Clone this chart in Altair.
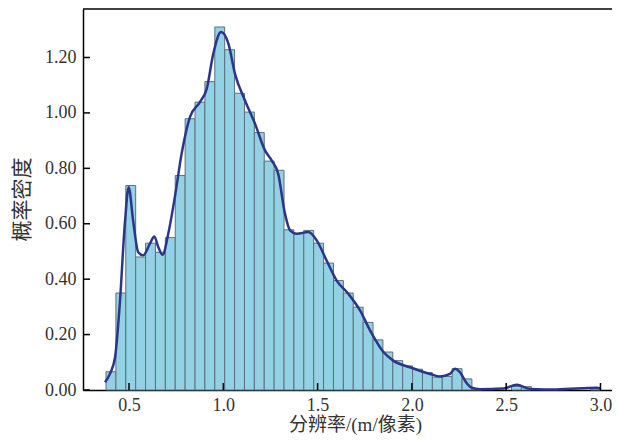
import altair as alt
import pandas as pd

# Histogram: 50 equal bins between data min and max
data_min = 0.378
data_max = 3.0
n_bins = 50
bin_heights = [0.066, 0.35, 0.738, 0.48, 0.53, 0.497, 0.55, 0.774, 0.979, 1.039,
               1.113, 1.31, 1.228, 1.071, 1.003, 0.929, 0.826, 0.793, 0.578, 0.564,
               0.576, 0.53, 0.458, 0.395, 0.35, 0.299, 0.244, 0.181, 0.137, 0.106,
               0.087, 0.075, 0.063, 0.046, 0.049, 0.077, 0.04, 0.004, 0.0, 0.0,
               0.0, 0.013, 0.012, 0.0, 0.0, 0.0, 0.0, 0.0, 0.0, 0.004]

# KDE curve
kde_x = [0.373, 0.40, 0.426, 0.45, 0.479, 0.498, 0.522, 0.549, 0.575, 0.611,
         0.634, 0.655, 0.678, 0.708, 0.743, 0.779, 0.823, 0.876, 0.912, 0.947,
         0.988, 1.027, 1.062, 1.115, 1.168, 1.221, 1.257, 1.291, 1.327, 1.354,
         1.389, 1.451, 1.495, 1.548, 1.601, 1.663, 1.725, 1.778, 1.849, 1.901,
         1.99, 2.096, 2.149, 2.202, 2.228, 2.255, 2.29, 2.317, 2.361, 2.485,
         2.556, 2.626, 2.768, 2.98, 3.0]
kde_y = [0.028, 0.06, 0.118, 0.30, 0.61, 0.732, 0.61, 0.497, 0.486, 0.528,
         0.554, 0.516, 0.488, 0.564, 0.696, 0.853, 0.985, 1.039, 1.087, 1.214,
         1.292, 1.25, 1.141, 1.045, 0.961, 0.865, 0.828, 0.78, 0.636, 0.576,
         0.564, 0.57, 0.54, 0.467, 0.395, 0.347, 0.287, 0.215, 0.137, 0.106,
         0.082, 0.058, 0.049, 0.058, 0.077, 0.064, 0.025, 0.008, 0.003, 0.005,
         0.019, 0.004, 0.002, 0.008, 0.006]

x_ticks = [0.5, 1.0, 1.5, 2.0, 2.5, 3.0]
y_ticks = [0.0, 0.2, 0.4, 0.6, 0.8, 1.0, 1.2]

x_title = "分辨率/(m/像素)"
y_title = "概率密度"

X_DOMAIN = [0.256, 3.061]
Y_DOMAIN = [0, 1.375]
W, H = 529, 381

bw = (data_max - data_min) / n_bins
bars = pd.DataFrame({
    "x0": [data_min + i * bw for i in range(n_bins)],
    "x1": [data_min + (i + 1) * bw for i in range(n_bins)],
    "h": bin_heights,
})
bars = bars[bars["h"] > 0]
kde = pd.DataFrame({"x": kde_x, "y": kde_y})
xt = pd.DataFrame({"v": x_ticks})
yt = pd.DataFrame({"v": y_ticks})

serif = "'Liberation Serif', 'Times New Roman', 'Noto Sans CJK SC', serif"
xscale = alt.Scale(domain=X_DOMAIN, nice=False, zero=False)
yscale = alt.Scale(domain=Y_DOMAIN, nice=False)

x_axis = alt.Axis(
    values=x_ticks, format=".1f", title=x_title, ticks=False, tickSize=0,
    grid=False, labelFont=serif, labelFontSize=18, labelColor="#333333",
    labelPadding=6, domainColor="#000000", domainWidth=1.5,
    titleFont=serif, titleFontSize=19, titleColor="#333333", titleFontWeight="normal",
    titleX=272, titleY=34, titleAlign="center", titleBaseline="middle")
y_axis = alt.Axis(
    values=y_ticks, format=".2f", title=y_title, ticks=False, tickSize=0,
    grid=False, labelFont=serif, labelFontSize=18, labelColor="#333333",
    labelPadding=7, domainColor="#000000", domainWidth=1.5,
    titleFont=serif, titleFontSize=21, titleColor="#333333", titleFontWeight="normal",
    titleX=-61, titleY=190, titleAngle=-90, titleAlign="center", titleBaseline="middle")

bar_layer = alt.Chart(bars).mark_rect(
    fill="#93d2e5", stroke="#5f7078", strokeWidth=1
).encode(
    x=alt.X("x0:Q", scale=xscale, axis=x_axis),
    x2="x1:Q",
    y=alt.Y("h:Q", scale=yscale, axis=y_axis),
    y2=alt.datum(0),
)

line_layer = alt.Chart(kde).mark_line(
    color="#2c3589", strokeWidth=2.5, interpolate="monotone"
).encode(
    x=alt.X("x:Q", scale=xscale, axis=x_axis),
    y=alt.Y("y:Q", scale=yscale, axis=y_axis),
)

xtick_layer = alt.Chart(xt).mark_rule(color="#000000", strokeWidth=1.5).encode(
    x=alt.X("v:Q", scale=xscale, axis=x_axis),
    y=alt.value(H),
    y2=alt.value(H - 7),
)

ytick_layer = alt.Chart(yt).mark_rule(color="#000000", strokeWidth=1.5).encode(
    y=alt.Y("v:Q", scale=yscale, axis=y_axis),
    x=alt.value(0),
    x2=alt.value(7),
)

top_line = alt.Chart(pd.DataFrame({"a": [0]})).mark_rule(
    color="#000000", strokeWidth=1.5
).encode(
    x=alt.value(0), x2=alt.value(W), y=alt.value(0)
)

chart = alt.layer(bar_layer, line_layer, xtick_layer, ytick_layer, top_line).properties(
    width=W, height=H,
    background="#ffffff",
    padding={"left": 75, "top": 1, "right": 0, "bottom": 45},
    autosize=alt.AutoSizeParams(type="none"),
).configure_view(strokeWidth=0, stroke="transparent")

chart.save("out.html", embed_options={"renderer": "svg", "actions": False})
